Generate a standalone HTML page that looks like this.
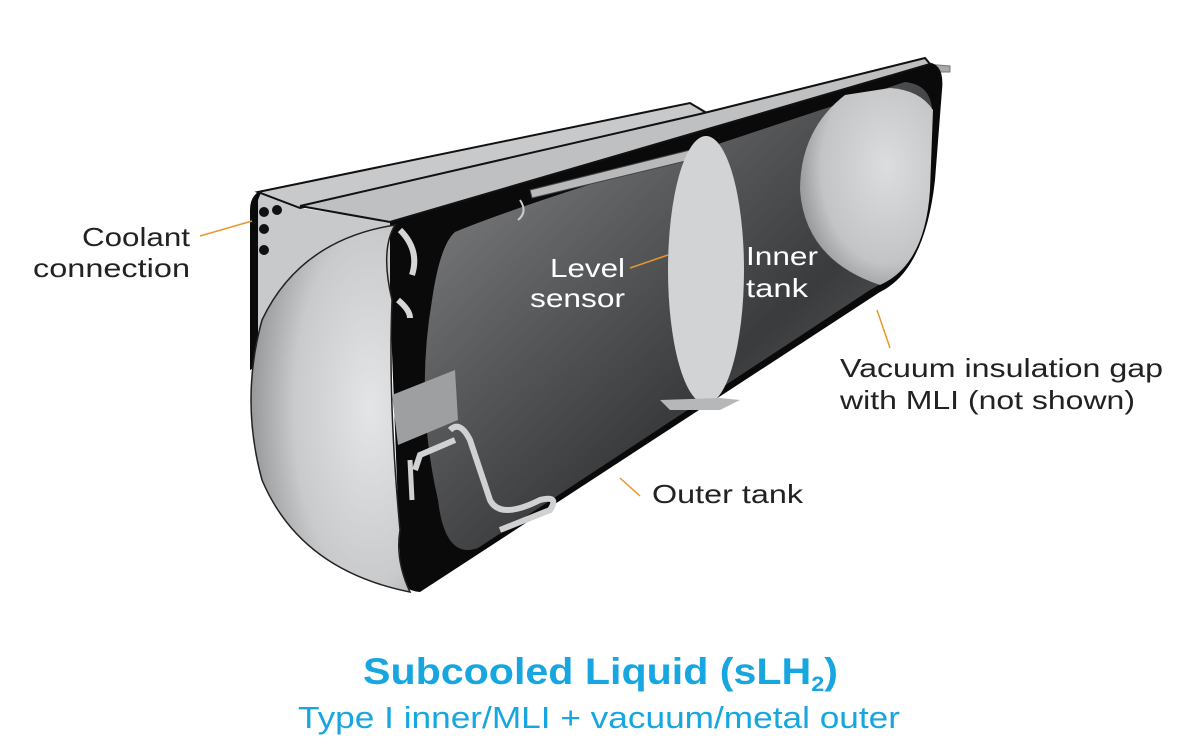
<!DOCTYPE html>
<html><head><meta charset="utf-8"><style>
html,body{margin:0;padding:0;background:#fff;}
svg{display:block;}
text{font-family:"Liberation Sans",sans-serif;}
</style></head><body>
<svg width="1200" height="752" viewBox="0 0 1200 752" xmlns="http://www.w3.org/2000/svg">
<defs>
<linearGradient id="inner" x1="0" y1="0" x2="1" y2="1">
<stop offset="0" stop-color="#8a8b8d"/><stop offset="0.35" stop-color="#5a5b5d"/><stop offset="0.6" stop-color="#3a3b3d"/><stop offset="1" stop-color="#7a7b7d"/>
</linearGradient>
<radialGradient id="cap" cx="0.75" cy="0.5" r="0.8">
<stop offset="0" stop-color="#e4e5e6"/><stop offset="0.6" stop-color="#c9cacc"/><stop offset="1" stop-color="#8e8f91"/>
</radialGradient>
<radialGradient id="dome" cx="0.65" cy="0.4" r="0.7">
<stop offset="0" stop-color="#dcdddf"/><stop offset="0.7" stop-color="#c3c4c6"/><stop offset="1" stop-color="#8f9092"/>
</radialGradient>
</defs>
<path d="M925 64 L950 66 L950 72 L930 72 Z" fill="#a8a9ab" stroke="#777" stroke-width="1"/>
<path d="M256 192 L300 208 L392 222 L395 300 L252 372 Z" fill="#c8c9cb"/>
<path d="M262 190 Q250 195 250 210 L250 370 L258 366 L258 200 Z" fill="#0a0a0a"/>
<path d="M258 192 L690 103 L705 112 L705 118 L300 208 Z" fill="#c8c9cb" stroke="#111" stroke-width="2"/>
<path d="M390 222 L925 62 Q945 62 942 90 L935 180 Q925 270 880 292 L420 592 Q395 590 400 560 L390 300 Z" fill="#0a0a0a"/>
<path d="M300 206 L700 114 L925 58 L930 64 L390 222 Z" fill="#bfc0c2" stroke="#111" stroke-width="2"/>
<path d="M455 232 Q520 205 700 150 L905 82 Q935 85 932 120 L928 190 Q920 265 870 290 L478 548 Q445 560 438 500 Q415 400 432 300 Q440 245 455 232 Z" fill="url(#inner)"/>
<path d="M845 95 Q800 130 800 190 Q805 260 880 285 Q925 265 930 190 L933 110 Q920 90 890 88 Z" fill="url(#dome)"/>
<path d="M395 225 Q300 240 262 320 Q240 400 262 480 Q300 570 410 592 Q395 560 400 530 Q388 400 392 300 Q380 250 395 225 Z" fill="url(#cap)" stroke="#222" stroke-width="1.5"/>
<path d="M530 190 L690 150 L690 160 L532 198 Z" fill="#b8b9bb" stroke="#444" stroke-width="1"/>
<path d="M520 200 Q528 212 518 220" stroke="#ccc" stroke-width="2" fill="none"/>
<ellipse cx="706" cy="270" rx="38" ry="134" fill="#d2d3d5"/>
<path d="M660 400 L720 398 L740 400 L720 410 L670 410 Z" fill="#b6b7b9"/>
<path d="M400 230 Q420 250 412 275" stroke="#d5d6d8" stroke-width="6" fill="none"/>
<path d="M398 300 Q410 310 410 318" stroke="#d5d6d8" stroke-width="6" fill="none"/>
<path d="M392 395 L455 370 L458 420 L398 445 Z" fill="#9e9fa1"/>
<path d="M415 470 L420 455 L455 440 M450 430 Q460 420 470 440 L490 500 Q500 520 540 500 Q560 495 550 510 L500 530" stroke="#d0d1d3" stroke-width="6" fill="none"/>
<path d="M410 460 L412 500" stroke="#d0d1d3" stroke-width="5" fill="none"/>
<circle cx="264" cy="212" r="5" fill="#111"/><circle cx="277" cy="210" r="5" fill="#111"/>
<circle cx="264" cy="229" r="5" fill="#111"/><circle cx="264" cy="250" r="5" fill="#111"/>
<g stroke="#e8962e" stroke-width="1.5">
<line x1="200" y1="236" x2="252" y2="221"/>
<line x1="630" y1="268" x2="668" y2="255"/>
<line x1="877" y1="310" x2="890" y2="348"/>
<line x1="620" y1="478" x2="640" y2="496"/>
</g>
<g font-size="26" fill="#222">
<text x="82" y="246" textLength="108" lengthAdjust="spacingAndGlyphs">Coolant</text>
<text x="33" y="277" textLength="157" lengthAdjust="spacingAndGlyphs">connection</text>
<text x="652" y="503" textLength="151" lengthAdjust="spacingAndGlyphs">Outer tank</text>
<text x="840" y="377" textLength="323" lengthAdjust="spacingAndGlyphs">Vacuum insulation gap</text>
<text x="840" y="409" textLength="295" lengthAdjust="spacingAndGlyphs">with MLI (not shown)</text>
</g>
<g font-size="26" fill="#fff">
<text x="550" y="277" textLength="75" lengthAdjust="spacingAndGlyphs">Level</text>
<text x="530" y="307" textLength="95" lengthAdjust="spacingAndGlyphs">sensor</text>
<text x="746" y="265" textLength="72" lengthAdjust="spacingAndGlyphs">Inner</text>
<text x="746" y="297" textLength="62" lengthAdjust="spacingAndGlyphs">tank</text>
</g>
<text x="363" y="684" font-size="37" font-weight="bold" fill="#18a6e0" textLength="475" lengthAdjust="spacingAndGlyphs">Subcooled Liquid (sLH<tspan font-size="21" dy="7">2</tspan><tspan dy="-7">)</tspan></text>
<text x="298" y="728" font-size="31" fill="#18a6e0" textLength="602" lengthAdjust="spacingAndGlyphs">Type I inner/MLI + vacuum/metal outer</text>
</svg>
</body></html>
